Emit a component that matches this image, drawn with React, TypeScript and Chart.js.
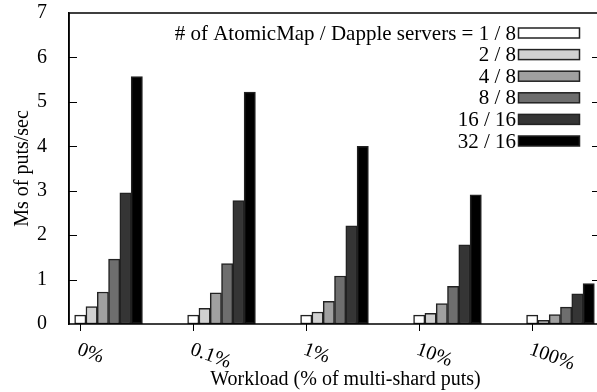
import React, { useEffect, useRef } from 'react';
import { Chart, registerables } from 'chart.js';

Chart.register(...registerables);

const CATEGORIES = ['0%', '0.1%', '1%', '10%', '100%'];
const SERIES_LABELS = ['1 / 8', '2 / 8', '4 / 8', '8 / 8', '16 / 16', '32 / 16'];
const LEGEND_PREFIX = '# of AtomicMap / Dapple servers = ';
const S_1_8 = [0.2, 0.2, 0.2, 0.2, 0.2];
const S_2_8 = [0.39, 0.35, 0.27, 0.24, 0.08];
const S_4_8 = [0.72, 0.7, 0.51, 0.46, 0.21];
const S_8_8 = [1.46, 1.36, 1.08, 0.85, 0.38];
const S_16_16 = [2.95, 2.78, 2.21, 1.78, 0.68];
const S_32_16 = [5.57, 5.22, 4.0, 2.91, 0.91];
const SERIES_VALUES = [S_1_8, S_2_8, S_4_8, S_8_8, S_16_16, S_32_16];
const FILLS = ['#ffffff', '#d0d0d0', '#a0a0a0', '#6e6e6e', '#353535', '#000000'];
const Y_MIN = 0;
const Y_MAX = 7;
const X_TITLE = 'Workload (% of multi-shard puts)';
const Y_TITLE = 'Ms of puts/sec';

const FONT = "'Liberation Serif', 'Times New Roman', Tinos, 'DejaVu Serif', serif";
const FONT_SIZE = 20;
const LEGEND_FONT_SIZE = 21;
const BAR_STEP = 0.1;

const framePlugin = {
  id: 'gnuplotFrame',
  afterDatasetsDraw(chart: any) {
    const { ctx, chartArea } = chart;
    const { left, right, top, bottom } = chartArea;
    const xs = chart.scales.x;
    const ys = chart.scales.y;
    ctx.save();
    ctx.strokeStyle = '#000';
    ctx.lineWidth = 1.5;
    ctx.beginPath();
    ctx.moveTo(left, top);
    ctx.lineTo(right, top);
    ctx.lineTo(right, bottom);
    ctx.lineTo(left, bottom);
    ctx.lineTo(left, top);
    ctx.stroke();
    ctx.lineWidth = 1;
    for (let v = Y_MIN + 1; v < Y_MAX; v++) {
      const y = Math.round(ys.getPixelForValue(v)) + 0.5;
      ctx.beginPath();
      ctx.moveTo(left, y);
      ctx.lineTo(left + 8, y);
      ctx.moveTo(right - 8, y);
      ctx.lineTo(right, y);
      ctx.stroke();
    }
    ctx.fillStyle = '#000';
    ctx.font = `${FONT_SIZE}px ${FONT}`;
    CATEGORIES.forEach((label, i) => {
      const x = Math.round(xs.getPixelForValue(i)) + 0.5;
      ctx.beginPath();
      ctx.moveTo(x, bottom);
      ctx.lineTo(x, bottom + 7);
      ctx.stroke();
      ctx.save();
      ctx.translate(x - 2.5, bottom + 25);
      ctx.rotate((20 * Math.PI) / 180);
      ctx.textAlign = 'left';
      ctx.textBaseline = 'middle';
      ctx.fillText(label, 0, 0);
      ctx.restore();
    });
    ctx.textAlign = 'center';
    ctx.textBaseline = 'alphabetic';
    ctx.fillText(X_TITLE, (left + right) / 2 + 11, bottom + 61);
    const textRight = 516;
    const swLeft = 518.5;
    const swW = 61;
    const swH = 10;
    ctx.font = `${LEGEND_FONT_SIZE}px ${FONT}`;
    SERIES_LABELS.forEach((lab, j) => {
      const cy = top + 20 + j * 21.6;
      ctx.textAlign = 'right';
      ctx.textBaseline = 'middle';
      ctx.fillStyle = '#000';
      ctx.fillText(j === 0 ? LEGEND_PREFIX + lab : lab, textRight, cy + 1);
      ctx.fillStyle = FILLS[j];
      ctx.fillRect(swLeft, cy - swH / 2, swW, swH);
      ctx.strokeStyle = '#222';
      ctx.lineWidth = 1.5;
      ctx.strokeRect(swLeft, cy - swH / 2, swW, swH);
    });
    ctx.restore();
  },
};

export default function App() {
  const ref = useRef<HTMLCanvasElement | null>(null);
  useEffect(() => {
    if (!ref.current) return;
    const datasets = SERIES_VALUES.map((vals, j) => ({
      label: SERIES_LABELS[j],
      data: vals.map((v, i) => ({ x: i + j * BAR_STEP, y: v })),
      backgroundColor: FILLS[j],
      borderColor: '#222',
      borderWidth: 1.5,
      borderSkipped: false as const,
      grouped: false,
      barPercentage: 1,
      categoryPercentage: 1,
    }));
    const chart = new Chart(ref.current, {
      type: 'bar',
      data: { datasets },
      plugins: [framePlugin],
      options: {
        animation: false,
        responsive: false,
        events: [],
        layout: { padding: { left: 0, right: 4, top: 13, bottom: 68 } },
        plugins: { legend: { display: false }, tooltip: { enabled: false } },
        scales: {
          x: {
            type: 'linear',
            min: -0.1,
            max: 4.6,
            offset: false,
            display: false,
            afterBuildTicks: (s: any) => {
              s.ticks = CATEGORIES.map((_, i) => ({ value: i }));
            },
          },
          y: {
            min: Y_MIN,
            max: Y_MAX,
            afterFit: (s: any) => {
              s.width = 69;
              s.paddingTop = 0;
              s.paddingBottom = 0;
            },
            ticks: {
              stepSize: 1,
              color: '#000',
              padding: 22,
              font: { family: FONT, size: FONT_SIZE },
            },
            grid: { display: false, drawTicks: false },
            border: { display: true, color: '#000', width: 1.5 },
            title: {
              display: true,
              text: Y_TITLE,
              color: '#000',
              font: { family: FONT, size: FONT_SIZE },
              padding: { top: 11, bottom: 0 },
            },
          },
        },
      },
    });
    return () => chart.destroy();
  }, []);
  return (
    <div
      style={{
        position: 'fixed',
        left: 0,
        top: 0,
        width: 597,
        height: 392,
        overflow: 'hidden',
        background: '#fff',
      }}
    >
      <canvas ref={ref} width={604} height={392} style={{ display: 'block', width: 604, height: 392 }} />
    </div>
  );
}
